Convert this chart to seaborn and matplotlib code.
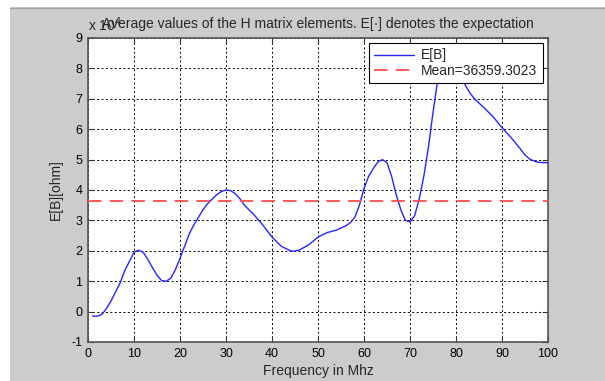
import numpy as np
import pandas as pd
import matplotlib
matplotlib.use("Agg")
import matplotlib.pyplot as plt
from matplotlib.ticker import FuncFormatter
import seaborn as sns

# Frequency axis (MHz) and expected H-matrix element magnitude (ohm, in units of 1e4)
freq = [1, 2, 3, 4, 5, 6, 7, 8, 9, 10, 11, 12, 13, 14, 15, 16, 17, 18, 19, 20,
        21, 22, 23, 24, 25, 26, 27, 28, 29, 30, 31, 32, 33, 34, 35, 36, 38, 40,
        42, 44, 45, 46, 48, 50, 52, 54, 56, 57, 58, 59, 60, 61, 62, 63, 64, 65,
        66, 67, 68, 69, 70, 71, 72, 73, 74, 75, 76, 77, 78, 79, 80, 81, 82, 83,
        84, 86, 88, 90, 92, 94, 95, 96, 97, 98, 99, 100]
eb_1e4 = [-0.15, -0.15, -0.10, 0.10, 0.35, 0.65, 0.95, 1.35, 1.65, 1.95,
          2.02, 1.95, 1.72, 1.45, 1.20, 1.02, 1.00, 1.10, 1.38, 1.75,
          2.15, 2.55, 2.85, 3.10, 3.35, 3.55, 3.70, 3.85, 3.95, 4.00,
          3.98, 3.88, 3.72, 3.50, 3.35, 3.20, 2.85, 2.45,
          2.15, 2.00, 1.99, 2.03, 2.20, 2.45, 2.60, 2.68, 2.82, 2.92, 3.10, 3.50,
          4.05, 4.45, 4.70, 4.92, 5.00, 4.90,
          4.45, 3.85, 3.35, 3.00, 2.95, 3.15, 3.70, 4.45, 5.40, 6.55, 7.60, 8.20,
          8.50, 8.55, 8.30, 7.85, 7.45, 7.20,
          7.00, 6.72, 6.42, 6.05, 5.72, 5.35, 5.15, 5.02, 4.95, 4.91, 4.90, 4.90]
mean_value = 36359.3023

x_ticks = list(range(0, 101, 10))
y_ticks = list(range(-1, 10))

df = pd.DataFrame({"freq": freq, "EB": np.array(eb_1e4) * 1e4})

sns.set_style("white")
plt.rcParams["font.family"] = ["Liberation Sans", "DejaVu Sans"]
plt.rcParams["font.size"] = 10

W, H = 605, 381
bg = "#cccccc"
fig = plt.figure(figsize=(W / 100, H / 100), dpi=100, facecolor="white")

# grey window panel with a thin white margin on the top and left
fig.patches.append(plt.Rectangle((10 / W, 0), 1 - 10 / W, 1 - 7 / H,
                                 transform=fig.transFigure, facecolor=bg,
                                 edgecolor="none", zorder=-10))
fig.lines.append(plt.Line2D([10 / W, 1], [1 - 7.5 / H] * 2, transform=fig.transFigure,
                            color="#a4a4a4", lw=1, zorder=-9))

ax = fig.add_axes([88 / W, 1 - 342 / H, 460 / W, 304 / H])
ax.set_facecolor("white")

sns.lineplot(data=df, x="freq", y="EB", ax=ax, color="#2525ff", lw=1.0,
             label="E[B]", zorder=3)
ax.axhline(mean_value, color="#ff4d4d", lw=1.3, dashes=(7.5, 4.5),
           label=f"Mean={mean_value:.4f}", zorder=3)

ax.set_xlim(0, 100)
ax.set_ylim(-1e4, 9e4)
ax.set_xticks(x_ticks)
ax.set_yticks([v * 1e4 for v in y_ticks])
ax.yaxis.set_major_formatter(FuncFormatter(lambda v, p: f"{v / 1e4:.0f}"))

ax.grid(True, color="black", linestyle=(0, (2, 2.5)), lw=0.7)
ax.tick_params(direction="in", length=4, width=0.8, colors="#333333",
               labelcolor="black", labelsize=9, top=True, right=True,
               bottom=True, left=True, pad=4)
for s in ax.spines.values():
    s.set_color("#555555")
    s.set_linewidth(1.2)
    s.set_visible(True)

ax.set_xlabel("Frequency in Mhz", fontsize=10, labelpad=3)
ax.set_ylabel("E[B][ohm]", fontsize=10, labelpad=6)
ax.set_title("Average values of the H matrix elements. E[\u00b7] denotes the expectation",
             fontsize=10, pad=7)
ax.text(0.0, 1.012, r"x 10$^4$", transform=ax.transAxes, ha="left", va="bottom",
        fontsize=10)

leg = ax.legend(loc="upper right", frameon=True, fancybox=False, fontsize=10,
                borderpad=0.4, handlelength=2.9, handletextpad=0.5,
                labelspacing=0.1, borderaxespad=0.35)
leg.get_frame().set_edgecolor("black")
leg.get_frame().set_linewidth(0.8)
leg.get_frame().set_alpha(1)
leg.set_zorder(5)

fig.savefig("out.png", dpi=100, facecolor="white")
